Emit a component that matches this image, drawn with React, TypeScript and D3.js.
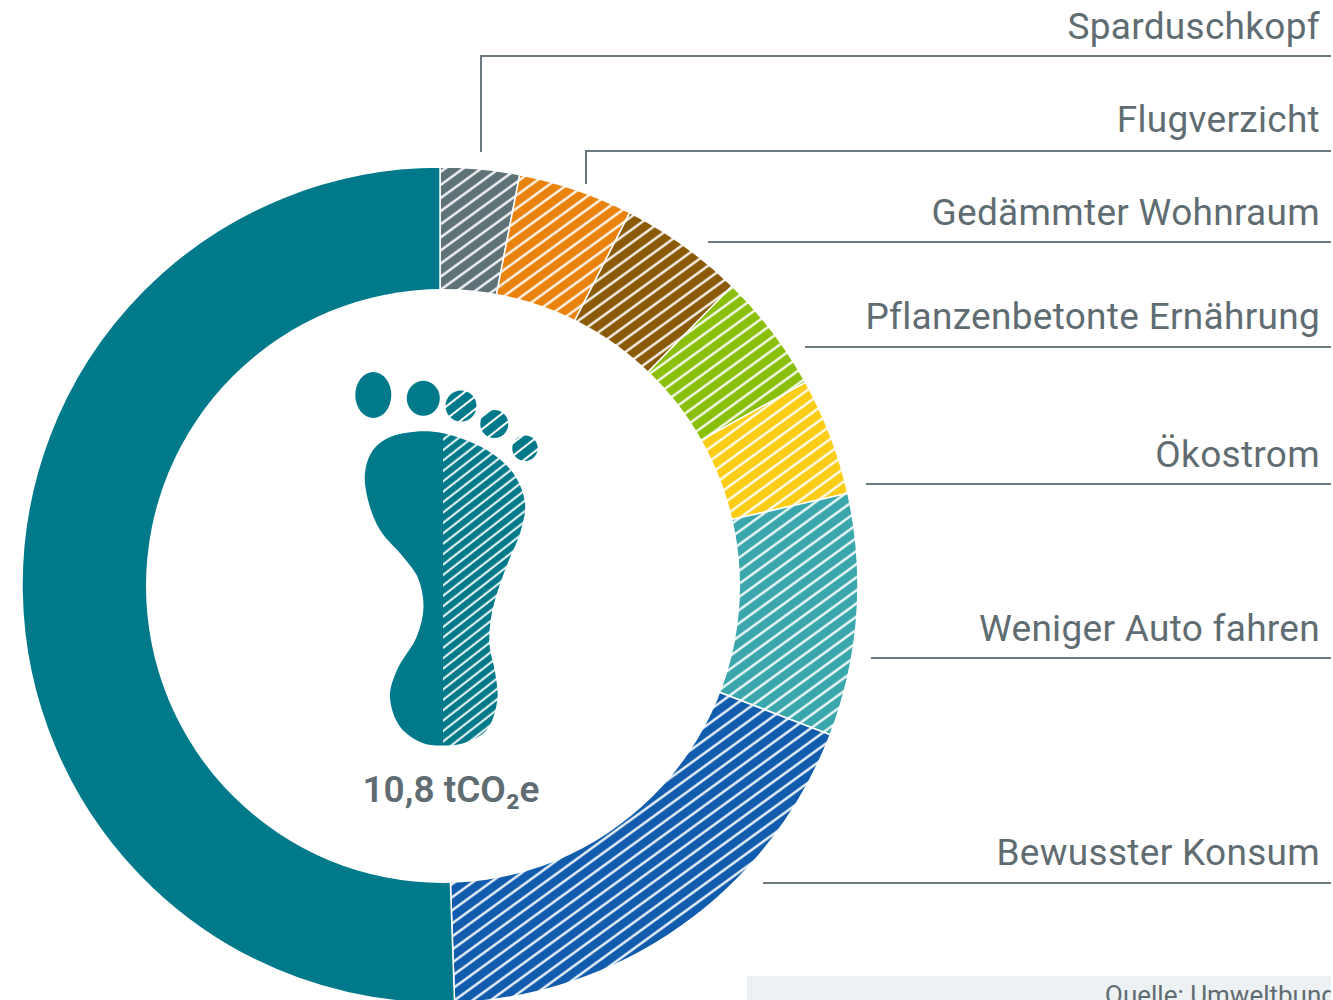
import React from "react";
import * as d3 from "d3";

const sliceNames = ["Sparduschkopf", "Flugverzicht", "Gedämmter Wohnraum", "Pflanzenbetonte Ernährung", "Ökostrom", "Weniger Auto fahren", "Bewusster Konsum", "Rest"];
const sliceValues = [0.33, 0.48, 0.52, 0.5, 0.49, 1.01, 2.01, 5.46];
const sliceColors = ["#5f7278", "#e9830e", "#8a5a08", "#8abf0c", "#fbcd17", "#3aa7ad", "#115cad", "#007a8a"];
const sliceHatched = [true, true, true, true, true, true, true, false];

const labelNames = sliceNames.slice(0, 7);
const labelBaselines = [38.5, 132, 224.5, 329, 466.5, 640.5, 864.5];
const leaderPaths: [number, number][][] = [
  [[481, 152], [481, 56], [1331, 56]],
  [[586, 184], [586, 151], [1331, 151]],
  [[708, 242], [1331, 242]],
  [[805, 347], [1331, 347]],
  [[866, 484], [1331, 484]],
  [[871, 658], [1331, 658]],
  [[763, 883], [1331, 883]],
];

const footOutline: [number, number][] = [
  [415, 431.7], [390, 437], [373, 450], [365, 473], [368, 500], [380, 530], [403.3, 557], [418, 578], [423.5, 606.7], [416.7, 636.7],
  [397, 670], [390, 696.7], [400, 726.7], [423.3, 743.3], [443.3, 745.5], [463.3, 743.3], [486.7, 730], [497.3, 700],
  [495, 672], [489.5, 645], [491, 618], [498, 590], [509, 560], [520, 533.3], [525, 503.3], [513.3, 473.3], [486.7, 450], [443.3, 433.3],
];
const solidToes = [[373.3, 395, 18, 23], [423.3, 398.3, 16.5, 17.5]];
const hatchedToes = [[461, 406, 15.5, 15.5], [494.3, 424, 14, 14], [525, 448.3, 12.7, 12.7]];

const TEAL = "#007a8a";
const TEXT = "#5f6d72";
const FONT = "Roboto, 'Noto Sans', sans-serif";

export default function App() {
  const cx = 440, cy = 585, R = 418;
  const pie = d3.pie<number>().sort(null).value((d) => d);
  const arc = d3.arc<d3.PieArcDatum<number>>().innerRadius(0).outerRadius(R);
  const arcs = pie(sliceValues);
  const foot = d3.line().curve(d3.curveCatmullRomClosed.alpha(0.5))(footOutline) as string;
  const leader = d3.line();

  return (
    <svg width={1333} height={1000} viewBox="0 0 1333 1000" style={{ position: "fixed", left: 0, top: 0, display: "block", background: "#fff" }}>
      <defs>
        {sliceColors.map((c, i) => (
          <pattern key={i} id={`hatch${i}`} width={10.6} height={10.6} patternUnits="userSpaceOnUse" patternTransform="rotate(-36)">
            <rect width={10.6} height={10.6} fill={c} />
            <rect y={4.2} width={10.6} height={2.2} fill="#fff" />
          </pattern>
        ))}
        <pattern id="hatchFoot" width={8.2} height={8.2} patternUnits="userSpaceOnUse" patternTransform="rotate(-38)">
          <rect width={8.2} height={8.2} fill={TEAL} />
          <rect y={3.3} width={8.2} height={1.9} fill="#fff" />
        </pattern>
        <pattern id="hatchToe" width={10} height={10} patternUnits="userSpaceOnUse" patternTransform="rotate(-38)">
          <rect width={10} height={10} fill={TEAL} />
          <rect y={4} width={10} height={2} fill="#fff" />
        </pattern>
        <clipPath id="footLeft"><rect x={300} y={360} width={143} height={400} /></clipPath>
        <clipPath id="footRight"><rect x={443} y={360} width={120} height={400} /></clipPath>
        <clipPath id="page"><rect x={0} y={0} width={1331} height={1000} /></clipPath>
      </defs>

      <g transform={`translate(${cx},${cy})`}>
        {arcs.map((a, i) => (
          <path key={sliceNames[i]} d={arc(a) as string} fill={sliceHatched[i] ? `url(#hatch${i})` : sliceColors[i]} stroke="#fff" strokeWidth={1.5} />
        ))}
      </g>
      <circle cx={443} cy={586} r={297} fill="#fff" />

      {leaderPaths.map((p, i) => (
        <path key={i} d={leader(p) as string} fill="none" stroke="#6b797e" strokeWidth={2} />
      ))}

      {labelNames.map((n, i) => (
        <text key={n} x={1320} y={labelBaselines[i]} textAnchor="end" fontFamily={FONT} fontSize={37} letterSpacing={0.3} fill={TEXT}>{n}</text>
      ))}

      <path d={foot} fill={TEAL} clipPath="url(#footLeft)" />
      <path d={foot} fill="url(#hatchFoot)" clipPath="url(#footRight)" />
      {solidToes.map(([x, y, a, b], i) => <ellipse key={i} cx={x} cy={y} rx={a} ry={b} fill={TEAL} />)}
      {hatchedToes.map(([x, y, a, b], i) => <ellipse key={i} cx={x} cy={y} rx={a} ry={b} fill="url(#hatchToe)" />)}

      <text x={451} y={802} textAnchor="middle" fontFamily={FONT} fontSize={37} fontWeight={600} fill={TEXT}>10,8 tCO₂e</text>

      <g clipPath="url(#page)">
        <rect x={747} y={976} width={590} height={24} fill="#edf1f3" />
        <text x={1105} y={1004} fontFamily={FONT} fontSize={26} fill={TEXT}>Quelle: Umweltbundesamt</text>
      </g>
    </svg>
  );
}
